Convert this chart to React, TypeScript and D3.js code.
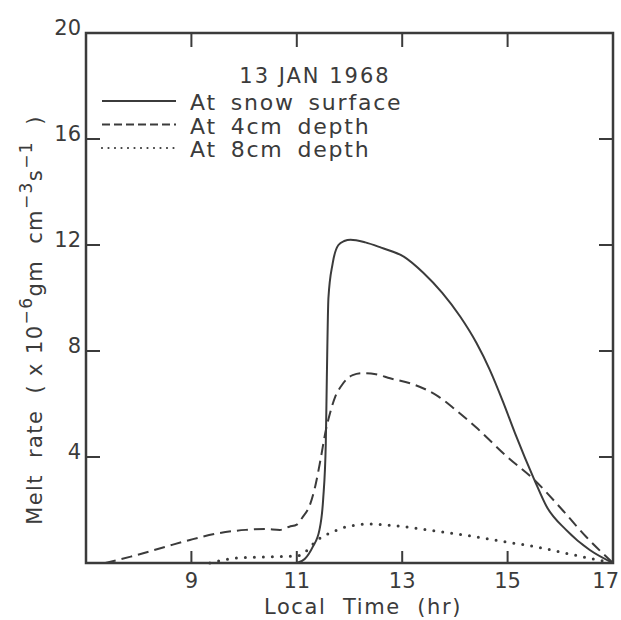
import * as d3 from 'd3';

// hours (local time) and melt rate (x 10^-6 gm cm^-3 s^-1)
const surfaceHours = [11.0, 11.15, 11.3, 11.43, 11.5, 11.55, 11.57, 11.6, 11.68, 11.79, 11.9, 12.02, 12.3, 12.6, 13.03, 13.4, 13.76, 14.1, 14.41, 14.66, 14.91, 15.14, 15.51, 15.74, 16.11, 16.56, 17.0];
const surfaceRate = [0, 0.15, 0.6, 1.25, 2.4, 4.5, 7.0, 10.0, 11.3, 12.0, 12.15, 12.2, 12.1, 11.9, 11.56, 10.95, 10.19, 9.3, 8.3, 7.3, 6.1, 4.9, 3.13, 2.13, 1.25, 0.49, 0];

const depth4Hours = [7.36, 7.85, 8.52, 8.97, 9.5, 10.03, 10.4, 10.68, 10.86, 11.0, 11.1, 11.25, 11.35, 11.45, 11.55, 11.63, 11.73, 11.85, 12.06, 12.25, 12.5, 12.77, 13.2, 13.69, 14.0, 14.39, 14.99, 15.51, 16.04, 16.49, 17.0];
const depth4Rate = [0, 0.24, 0.62, 0.87, 1.12, 1.25, 1.28, 1.25, 1.37, 1.45, 1.7, 2.2, 2.9, 3.9, 5.0, 5.65, 6.28, 6.7, 7.09, 7.16, 7.12, 6.97, 6.75, 6.28, 5.8, 5.14, 4.01, 3.13, 2.0, 0.99, 0];

const depth8Hours = [9.35, 9.88, 10.3, 10.63, 11.0, 11.15, 11.3, 11.45, 11.63, 11.95, 12.39, 12.8, 13.26, 13.8, 14.39, 14.95, 15.51, 16.27, 16.87, 17.0];
const depth8Rate = [0, 0.19, 0.22, 0.24, 0.26, 0.4, 0.7, 0.95, 1.13, 1.37, 1.47, 1.42, 1.31, 1.16, 0.99, 0.8, 0.62, 0.3, 0.05, 0];

const xTicks = [9, 11, 13, 15, 17];
const yTicks = [4, 8, 12, 16, 20];
const legendLabels = ['At snow surface', 'At 4cm depth', 'At 8cm depth'];

const ink = '#3b3b3b';
const font = '"DejaVu Sans", sans-serif';

export default function App() {
  const width = 621;
  const height = 620;
  const margin = { top: 33, right: 8, bottom: 57, left: 86 };
  const innerW = width - margin.left - margin.right;
  const innerH = height - margin.top - margin.bottom;

  const x = d3.scaleLinear().domain([7, 17]).range([0, innerW]);
  const y = d3.scaleLinear().domain([0, 20]).range([innerH, 0]);

  const line = d3
    .line<[number, number]>()
    .x(d => x(d[0]))
    .y(d => y(d[1]))
    .curve(d3.curveMonotoneX);

  const zip = (xs: number[], ys: number[]) => xs.map((v, i) => [v, ys[i]] as [number, number]);

  const series = [
    { pts: zip(surfaceHours, surfaceRate), dash: undefined, width: 2, cap: 'butt' },
    { pts: zip(depth4Hours, depth4Rate), dash: '11,6', width: 2, cap: 'butt' },
    { pts: zip(depth8Hours, depth8Rate), dash: '0,9', width: 3, cap: 'round' },
  ];
  const legendDash = [undefined, '8,4', '0,6.5'];

  const tick = 14;

  return (
    <svg width={width} height={height} style={{ display: 'block', position: 'absolute', left: 0, top: 0 }}>
      <rect width={width} height={height} fill="#fff" />
      <g transform={`translate(${margin.left},${margin.top})`}>
        {series.map((s, i) => (
          <path
            key={i}
            d={line(s.pts) || ''}
            fill="none"
            stroke={ink}
            strokeWidth={s.width}
            strokeDasharray={s.dash}
            strokeLinecap={s.cap as any}
          />
        ))}

        <rect x={0} y={0} width={innerW} height={innerH} fill="none" stroke={ink} strokeWidth={2.5} />

        {xTicks.filter(t => t < 17).map(t => (
          <g key={t}>
            <line x1={x(t)} x2={x(t)} y1={innerH} y2={innerH - 12} stroke={ink} strokeWidth={2} />
            <line x1={x(t)} x2={x(t)} y1={0} y2={tick} stroke={ink} strokeWidth={2} />
          </g>
        ))}
        {xTicks.map(t => (
          <text
            key={t}
            x={t === 17 ? innerW + 6 : x(t)}
            y={innerH + 25}
            textAnchor={t === 17 ? 'end' : 'middle'}
            fontFamily={font}
            fontSize={21}
            fill={ink}
          >
            {t}
          </text>
        ))}

        {yTicks.filter(t => t < 20).map(t => (
          <g key={t}>
            <line x1={0} x2={tick} y1={y(t)} y2={y(t)} stroke={ink} strokeWidth={2} />
            <line x1={innerW} x2={innerW - tick} y1={y(t)} y2={y(t)} stroke={ink} strokeWidth={2} />
          </g>
        ))}
        {yTicks.map(t => (
          <text key={t} x={-5} y={y(t) + 2} textAnchor="end" fontFamily={font} fontSize={21} fill={ink}>
            {t}
          </text>
        ))}

        <text x={229} y={50} textAnchor="middle" fontFamily={font} fontSize={21} letterSpacing={2} fill={ink}>
          13 JAN 1968
        </text>
        {legendLabels.map((label, i) => (
          <g key={label} transform={`translate(0,${68 + i * 23.5})`}>
            <line
              x1={16}
              x2={90}
              y1={0}
              y2={0}
              stroke={ink}
              strokeWidth={i === 2 ? 2.2 : 2}
              strokeDasharray={legendDash[i]}
              strokeLinecap={i === 2 ? 'round' : 'butt'}
            />
            <text x={104} y={9} fontFamily={font} fontSize={22} letterSpacing={1.8} wordSpacing={5} fill={ink}>
              {label}
            </text>
          </g>
        ))}
      </g>

      <text
        x={363}
        y={614}
        textAnchor="middle"
        fontFamily={font}
        fontSize={21}
        letterSpacing={1.6}
        fill={ink}
        style={{ whiteSpace: 'pre' }}
      >
        Local  Time  (hr)
      </text>

      <text
        transform="translate(42,320) rotate(-90)"
        textAnchor="middle"
        fontFamily={font}
        fontSize={21}
        letterSpacing={1.4}
        fill={ink}
        style={{ whiteSpace: 'pre' }}
      >
        <tspan>Melt  rate  ( x 10</tspan>
        <tspan dy={-10} fontSize={17}>−6</tspan>
        <tspan dy={10}>gm  cm</tspan>
        <tspan dy={-10} fontSize={17}>−3</tspan>
        <tspan dy={10}>s</tspan>
        <tspan dy={-10} fontSize={17}>−1</tspan>
        <tspan dy={10}>  )</tspan>
      </text>
    </svg>
  );
}
